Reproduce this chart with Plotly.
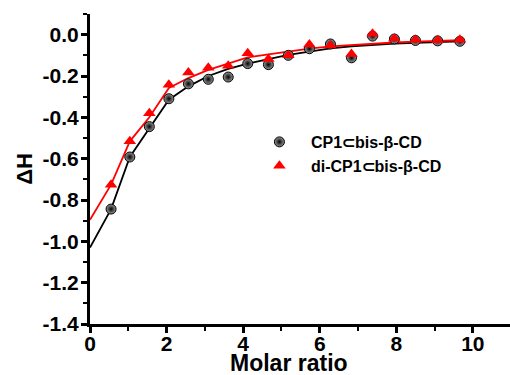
import plotly.graph_objects as go

# ---- data ----
molar_ratio = [0.55, 1.04, 1.55, 2.06, 2.57, 3.09, 3.61, 4.12, 4.66, 5.18,
               5.73, 6.28, 6.83, 7.38, 7.95, 8.50, 9.08, 9.66]
dh_cp1 = [-0.844, -0.592, -0.445, -0.310, -0.238, -0.216, -0.205, -0.140, -0.145, -0.100,
          -0.068, -0.045, -0.112, -0.007, -0.021, -0.028, -0.030, -0.032]
dh_dicp1 = [-0.726, -0.516, -0.380, -0.242, -0.183, -0.160, -0.150, -0.090, -0.118, -0.100,
            -0.047, -0.053, -0.094, 0.005, -0.018, -0.024, -0.027, -0.024]

fit_x = [0.0, 0.55, 1.04, 1.55, 2.06, 2.57, 3.09, 3.61, 4.12, 4.66, 5.18,
         5.73, 6.28, 6.83, 7.38, 7.95, 8.50, 9.08, 9.66]
fit_cp1 = [-1.030, -0.844, -0.592, -0.452, -0.315, -0.250, -0.200, -0.166, -0.140, -0.118, -0.098,
           -0.082, -0.066, -0.056, -0.048, -0.043, -0.039, -0.035, -0.032]
fit_dicp1 = [-0.896, -0.726, -0.516, -0.400, -0.258, -0.210, -0.170, -0.140, -0.110, -0.095, -0.081,
             -0.068, -0.057, -0.050, -0.044, -0.038, -0.034, -0.030, -0.027]

names = ["CP1\u2282bis-\u03b2-CD", "di-CP1\u2282bis-\u03b2-CD"]

x_ticks = [0, 2, 4, 6, 8, 10]
x_ticktext = ["0", "2", "4", "6", "8", "10"]
y_ticks = [0.0, -0.2, -0.4, -0.6, -0.8, -1.0, -1.2, -1.4]
y_ticktext = ["0.0", "-0.2", "-0.4", "-0.6", "-0.8", "-1.0", "-1.2", "-1.4"]

FONT = "Liberation Sans, Arial, sans-serif"

fig = go.Figure()
fig.add_trace(go.Scatter(x=fit_x, y=fit_cp1, mode="lines",
                         line=dict(color="black", width=1.8), showlegend=False, hoverinfo="skip"))
fig.add_trace(go.Scatter(x=fit_x, y=fit_dicp1, mode="lines",
                         line=dict(color="#ff0000", width=1.8), showlegend=False, hoverinfo="skip"))
fig.add_trace(go.Scatter(x=molar_ratio, y=dh_cp1, mode="markers", name=names[0],
                         marker=dict(symbol="circle", size=10, color="#9a9a9a",
                                     gradient=dict(type="radial", color="black"),
                                     line=dict(width=1, color="black"))))
fig.add_trace(go.Scatter(x=molar_ratio, y=dh_dicp1, mode="markers", name=names[1],
                         marker=dict(symbol="triangle-up", size=11, color="#ff0000",
                                     line=dict(width=0))))

axis_common = dict(showline=True, linewidth=3, linecolor="black", mirror=False,
                   ticks="outside", ticklen=6, tickwidth=3, tickcolor="black",
                   showgrid=False, zeroline=False,
                   tickfont=dict(family=FONT, size=21, color="black", weight="bold"))

fig.update_xaxes(range=[0, 10.97], tickvals=x_ticks,
                 ticktext=["<b>%s</b>" % t for t in x_ticktext], ticklabelstandoff=-7,
                 minor=dict(dtick=1, ticklen=4, tickwidth=2, tickcolor="black", ticks="outside"),
                 **axis_common)
fig.update_yaxes(range=[-1.4, 0.1], tickvals=y_ticks,
                 ticktext=["<b>%s</b>" % t for t in y_ticktext], ticklabelstandoff=-2,
                 minor=dict(dtick=0.1, ticklen=4, tickwidth=2, tickcolor="black", ticks="outside"),
                 title=dict(text="<b>\u0394H</b>", font=dict(family=FONT, size=22, color="black"),
                            standoff=4),
                 **axis_common)

fig.add_annotation(text="<b>Molar ratio</b>", xref="paper", yref="paper", x=(289 - 90) / 420,
                   y=-0.126, xanchor="center", yanchor="middle", showarrow=False,
                   font=dict(family=FONT, size=23, color="black"))

fig.update_layout(width=510, height=375, margin=dict(l=90, r=0, t=14, b=51),
                  plot_bgcolor="white", paper_bgcolor="white",
                  legend=dict(x=0.376, y=0.642, xanchor="left", yanchor="top", itemwidth=53,
                              bgcolor="rgba(0,0,0,0)",
                              font=dict(family=FONT, size=16, color="black", weight="bold")))

fig.write_html("out.html")
